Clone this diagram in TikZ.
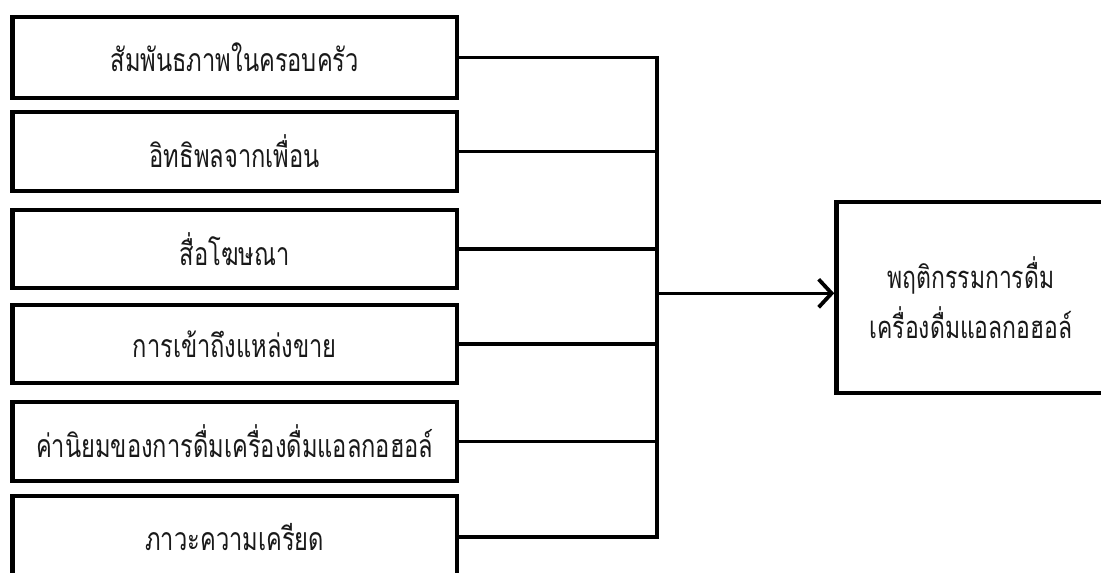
\documentclass[tikz,border=0pt]{standalone}
\usepackage{fontspec}
\newfontfamily\thaifont[Script=Thai,FakeStretch=0.74]{Loma}
\usetikzlibrary{arrows.meta}
\begin{document}
\begin{tikzpicture}[x=1pt,y=-1pt,
  inbox/.style={draw=black,line width=4.5pt,minimum width=444.5pt,inner sep=0pt,font=\thaifont\fontsize{32}{36}\selectfont,text=black!90},
  conn/.style={draw=black,line width=3.6pt},
]
\useasboundingbox (0,0) rectangle (1101,573);
\fill[white] (0,0) rectangle (1101,573);
\clip (0,0) rectangle (1101,573);
\node[inbox,minimum height=81pt] (b1) at (234.75,57.5) {สัมพันธภาพในครอบครัว};
\node[inbox,minimum height=79pt] (b2) at (234.75,151.5) {อิทธิพลจากเพื่อน};
\node[inbox,minimum height=78pt] (b3) at (234.75,249) {สื่อโฆษณา};
\node[inbox,minimum height=78pt] (b4) at (234.75,344) {การเข้าถึงแหล่งขาย};
\node[inbox,minimum height=79pt] (b5) at (234.75,441.5) {ค่านิยมของการดื่มเครื่องดื่มแอลกอฮอล์};
\node[inbox,minimum height=82pt] (b6) at (234.75,537) {ภาวะความเครียด};
\node[draw=black,line width=4.5pt,minimum width=269pt,minimum height=191pt,inner sep=0pt,align=center,
  font=\thaifont\fontsize{31}{50}\selectfont,text=black!90] (out) at (971,297.5) {พฤติกรรมการดื่ม\\เครื่องดื่มแอลกอฮอล์};
\coordinate (j) at (656.7,293.3);
\foreach \i in {1,...,6} \draw[conn,line cap=rect] (b\i.east) -| (j);
\draw[conn,-{Straight Barb[length=13pt,width=28pt,line width=3.8pt]}] (j) -- (j -| out.west);
\end{tikzpicture}
\end{document}
